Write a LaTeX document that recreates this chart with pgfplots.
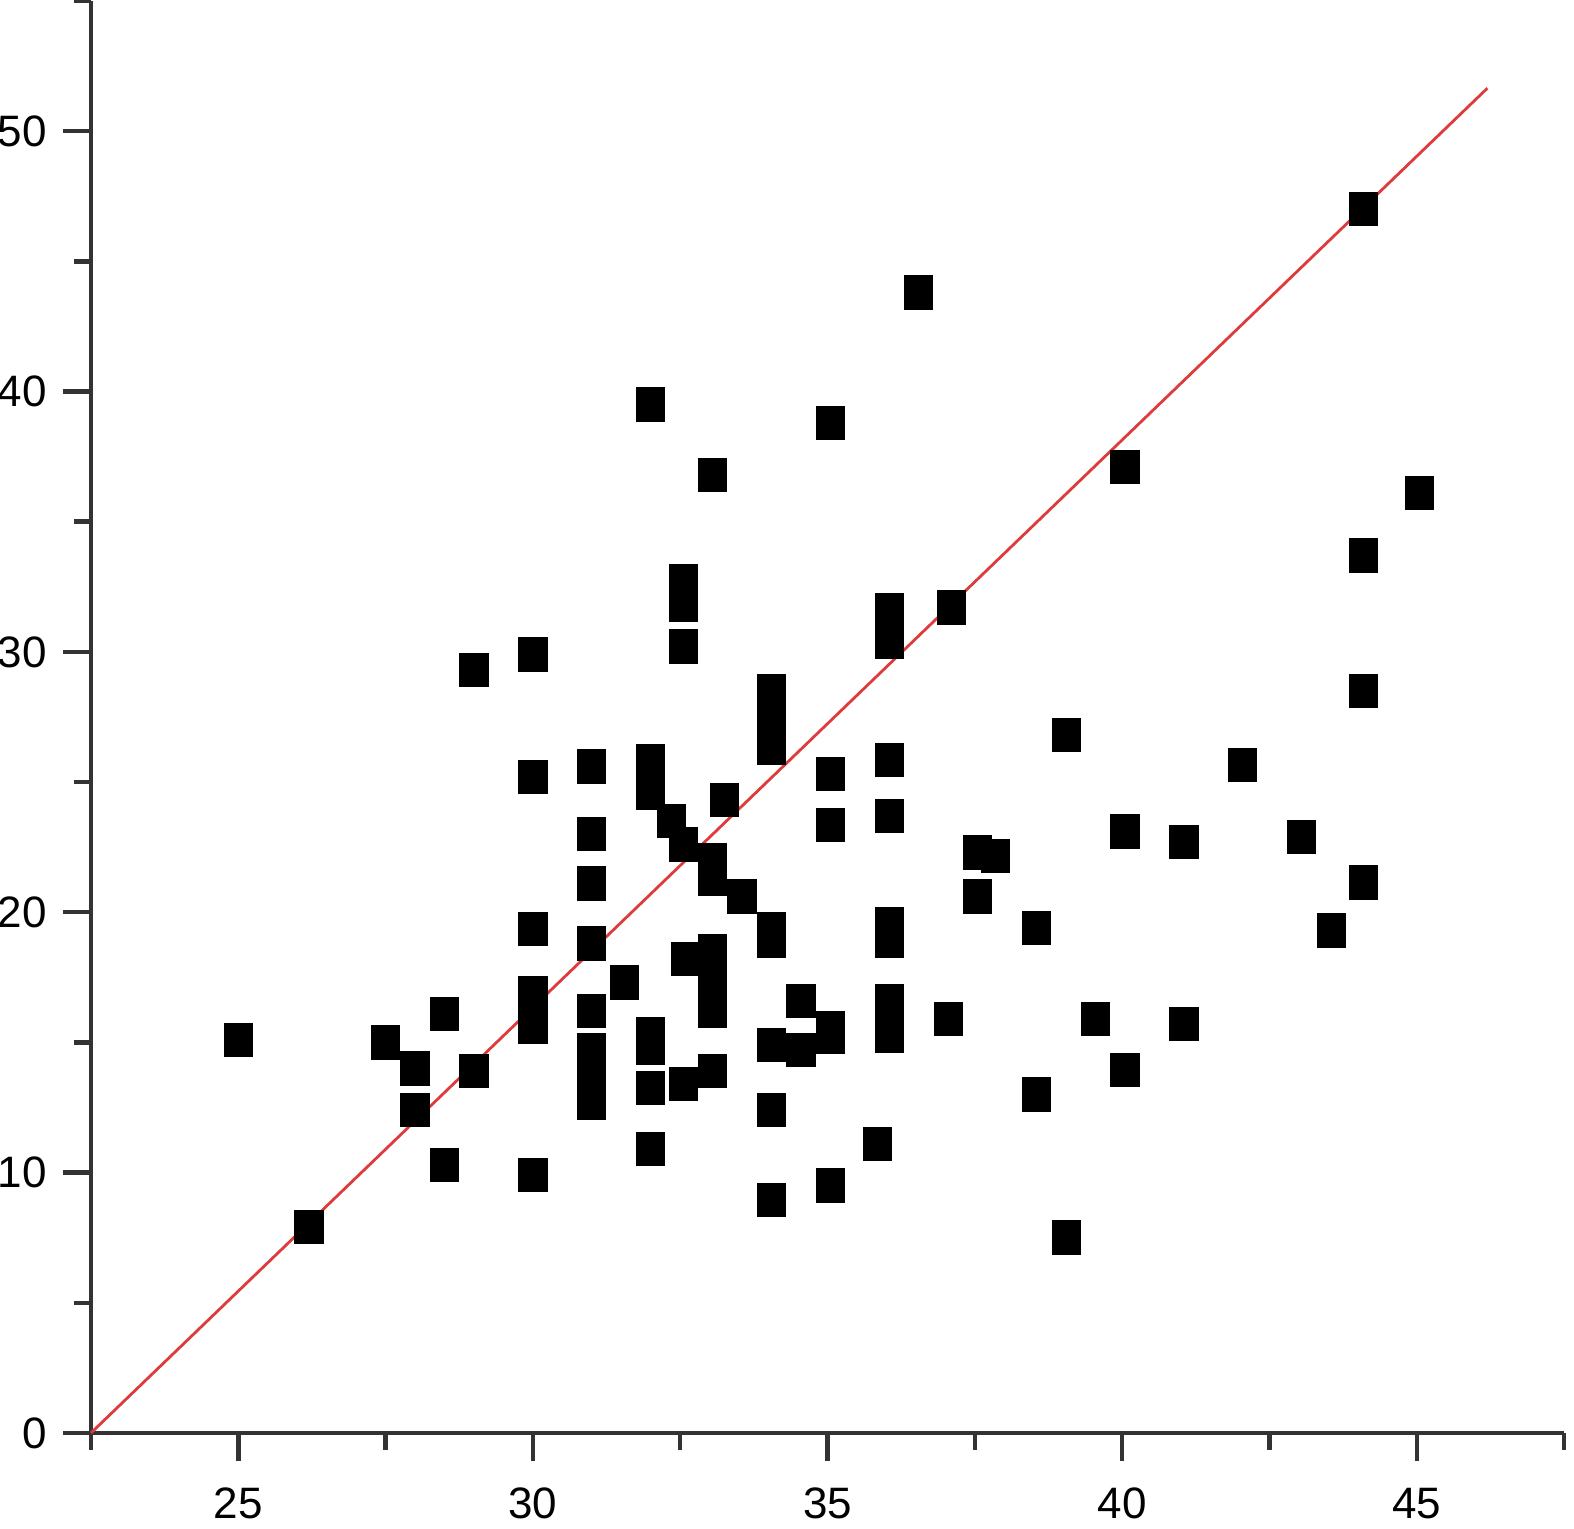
\documentclass[border=0pt]{standalone}
\usepackage{fontspec}
\setmainfont{Liberation Sans}
\usepackage{pgfplots}
\pgfplotsset{compat=1.18}
\definecolor{axisgray}{RGB}{51,51,51}
\definecolor{fitred}{RGB}{222,60,60}

\pgfplotstableread{
x y
25.0 15.1
26.2 7.9
27.5 15.0
28.0 14.0
28.0 12.4
28.5 16.1
28.5 10.3
29.0 13.9
29.0 29.3
30.0 29.9
30.0 25.2
30.0 19.35
30.0 16.9
30.0 15.6
30.0 9.9
31.0 25.6
31.0 23.0
31.0 21.1
31.0 18.8
31.0 16.2
31.0 14.7
31.0 13.7
31.0 12.7
31.55 17.3
32.0 39.5
32.0 25.8
32.0 24.6
32.35 23.5
32.55 22.6
32.0 15.3
32.0 14.8
32.0 13.25
32.55 13.4
32.0 10.9
32.55 32.7
32.55 31.8
32.55 30.2
32.6 18.2
33.05 36.8
33.05 22.0
33.05 21.3
33.25 24.3
33.05 18.5
33.05 17.3
33.05 16.2
33.05 13.9
33.55 20.6
34.05 28.5
34.05 27.4
34.05 26.3
34.05 19.35
34.05 18.9
34.05 14.9
34.05 12.4
34.05 8.95
34.55 16.6
34.55 14.7
35.05 38.8
35.05 25.3
35.05 23.35
35.05 15.55
35.05 15.2
35.05 9.5
35.85 11.1
36.05 31.6
36.05 30.4
36.05 25.85
36.05 23.7
36.05 19.55
36.05 18.9
36.05 16.6
36.05 15.9
36.05 15.25
36.55 43.8
37.1 31.7
37.05 15.9
37.55 22.3
37.85 22.15
37.55 20.6
38.55 19.4
38.55 13.0
39.05 26.8
39.05 7.5
39.55 15.9
40.05 37.1
40.05 23.1
40.05 13.95
41.05 22.7
41.05 15.7
42.05 25.65
43.05 22.9
43.55 19.3
44.1 47.0
44.1 33.7
44.1 28.5
44.1 21.15
45.05 36.1
}\points

\begin{document}
\begin{tikzpicture}
\begin{axis}[
  scale only axis,
  width=368.25pt, height=358pt,
  xmin=22.5, xmax=47.5, ymin=0, ymax=55,
  axis lines*=left,
  axis line style={axisgray, line width=1.1pt, -},
  xtick={25,30,...,45}, ytick={0,10,...,50},
  minor xtick={22.5,27.5,...,47.5},
  minor ytick={5,15,...,55},
  tick align=outside,
  major tick length=7pt, minor tick length=4.25pt,
  tick style={axisgray, line width=1.1pt},
  tick label style={font=\fontsize{11}{12}\selectfont},
  xticklabel style={yshift=-3.2pt},
  yticklabel style={xshift=-0.5pt},
  /pgf/number format/assume math mode=true,
  clip=false,
]
\addplot[only marks, mark=square*, mark size=3.45pt,
  mark options={fill=black, draw=black, yscale=1.19}] table {\points};
\addplot[fitred, line width=0.7pt] coordinates {(22.5,0) (46.2,51.65)};
\coordinate (sw) at (rel axis cs:0,0);
\coordinate (ne) at (rel axis cs:1,1);
\end{axis}
\pgfresetboundingbox
\path[use as bounding box] ([xshift=-22.75pt,yshift=-24pt]sw) rectangle ([xshift=2.5pt,yshift=0.25pt]ne);
\end{tikzpicture}
\end{document}
